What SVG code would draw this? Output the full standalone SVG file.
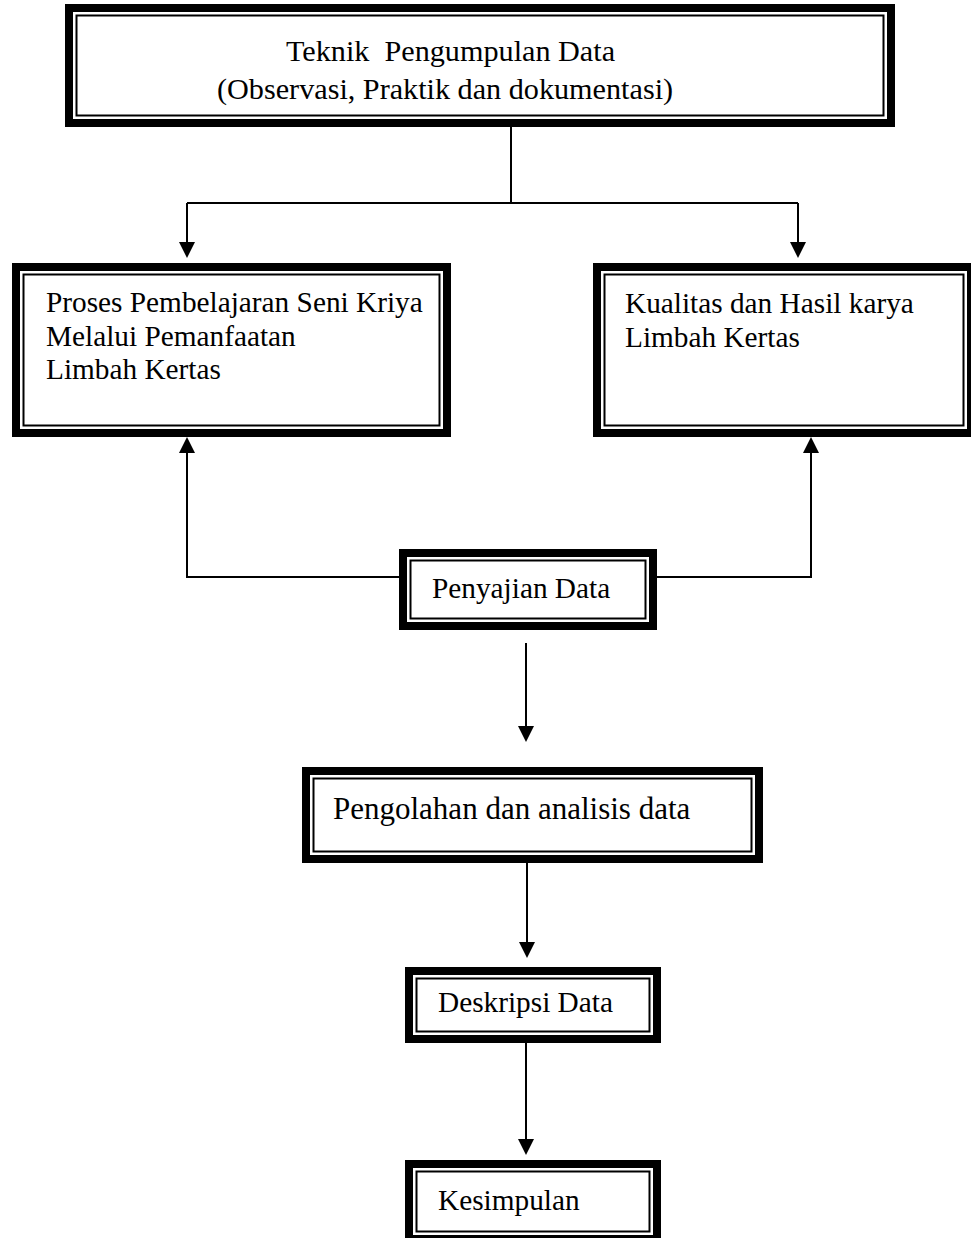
<svg xmlns="http://www.w3.org/2000/svg" width="971" height="1238" viewBox="0 0 971 1238">
<style>
.outer{fill:none;stroke:#000;stroke-width:8}
.inner{fill:none;stroke:#000;stroke-width:2}
.t{font-family:"Liberation Serif","Times New Roman",serif;font-size:29.3px;fill:#000;white-space:pre}
.conn{fill:none;stroke:#000;stroke-width:2}
</style>
<defs>
<marker id="ah" markerUnits="userSpaceOnUse" viewBox="0 0 16 16" markerWidth="16" markerHeight="16" refX="0" refY="8" orient="auto">
<path d="M0,0 L16,8 L0,16 z" fill="#000"/>
</marker>
</defs>
<rect width="971" height="1238" fill="#fff"/>
<g id="connectors">
<path class="conn" d="M511,127 V203"/>
<path class="conn" d="M187,203 H798"/>
<path class="conn" d="M187,203 V242" marker-end="url(#ah)"/>
<path class="conn" d="M798,203 V242" marker-end="url(#ah)"/>
<path class="conn" d="M399,577 H187 V453" marker-end="url(#ah)"/>
<path class="conn" d="M657,577 H811 V453" marker-end="url(#ah)"/>
<path class="conn" d="M526,643 V726" marker-end="url(#ah)"/>
<path class="conn" d="M527,863 V942" marker-end="url(#ah)"/>
<path class="conn" d="M526,1043 V1139" marker-end="url(#ah)"/>
</g>
<g id="node-teknik">
<rect x="65" y="4" width="830" height="123" fill="#fff"/>
<rect class="outer" x="69" y="8" width="822" height="115"/>
<rect class="inner" x="76.5" y="15.5" width="807" height="100"/>
<text class="t" x="286" y="61" style="font-size:30.2px">Teknik  Pengumpulan Data</text>
<text class="t" x="217" y="99" style="font-size:30.2px">(Observasi, Praktik dan dokumentasi)</text>
</g>
<g id="node-proses">
<rect x="12" y="263" width="439" height="174" fill="#fff"/>
<rect class="outer" x="16" y="267" width="431" height="166"/>
<rect class="inner" x="23.5" y="274.5" width="416" height="151"/>
<text class="t" x="46" y="312">Proses Pembelajaran Seni Kriya</text>
<text class="t" x="46" y="345.5">Melalui Pemanfaatan</text>
<text class="t" x="46" y="379">Limbah Kertas</text>
</g>
<g id="node-kualitas">
<rect x="593" y="263" width="382" height="174" fill="#fff"/>
<rect class="outer" x="597" y="267" width="374" height="166"/>
<rect class="inner" x="604.5" y="274.5" width="359" height="151"/>
<text class="t" x="625" y="313">Kualitas dan Hasil karya</text>
<text class="t" x="625" y="346.5">Limbah Kertas</text>
</g>
<g id="node-penyajian">
<rect x="399" y="549" width="258" height="81" fill="#fff"/>
<rect class="outer" x="403" y="553" width="250" height="73"/>
<rect class="inner" x="410.5" y="560.5" width="235" height="58"/>
<text class="t" x="432" y="598">Penyajian Data</text>
</g>
<g id="node-pengolahan">
<rect x="302" y="767" width="461" height="96" fill="#fff"/>
<rect class="outer" x="306" y="771" width="453" height="88"/>
<rect class="inner" x="313.5" y="778.5" width="438" height="73"/>
<text class="t" x="333" y="819" style="font-size:31px">Pengolahan dan analisis data</text>
</g>
<g id="node-deskripsi">
<rect x="405" y="967" width="256" height="76" fill="#fff"/>
<rect class="outer" x="409" y="971" width="248" height="68"/>
<rect class="inner" x="416.5" y="978.5" width="233" height="53"/>
<text class="t" x="438" y="1012">Deskripsi Data</text>
</g>
<g id="node-kesimpulan">
<rect x="405" y="1160" width="256" height="83" fill="#fff"/>
<rect class="outer" x="409" y="1164" width="248" height="75"/>
<rect class="inner" x="416.5" y="1171.5" width="233" height="60"/>
<text class="t" x="438" y="1210">Kesimpulan</text>
</g>
</svg>
